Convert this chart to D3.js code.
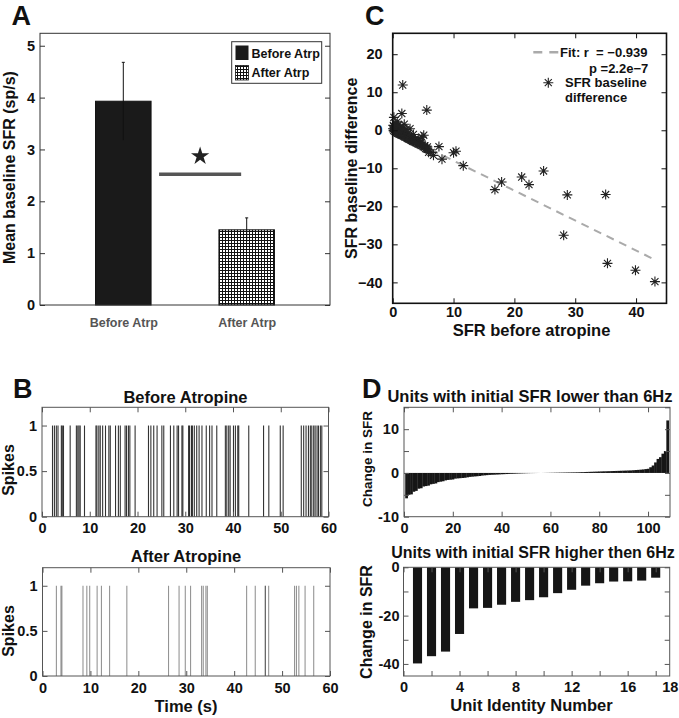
<!DOCTYPE html>
<html><head><meta charset="utf-8">
<script src="https://cdn.jsdelivr.net/npm/d3@7"></script>
<style>
html,body{margin:0;padding:0;background:#fff;}
svg{display:block;font-family:"Liberation Sans",Arial,Helvetica,sans-serif;font-weight:bold;}
.tick text{font-family:"Liberation Sans",Arial,Helvetica,sans-serif;font-weight:bold;font-size:14.5px;fill:#111;}
</style></head><body>
<svg id="fig" width="679" height="718"></svg>
<script>
// ---------- Panel A data ----------
const categoriesA = ["Before Atrp", "After Atrp"];
const meanSFR = [3.93, 1.45];
const errSFR = [0.75, 0.23];
const yTicksA = [0, 1, 2, 3, 4, 5];
const sigSpan = [1.29, 1.955];   // significance bar (category units)
const sigLevel = 2.52;
const starLevel = 2.87;

// ---------- Panel B data (spike times, s) ----------
const spikesBefore = [2.2,2.6,3.0,3.35,4.05,4.25,4.5,5.9,7.2,7.5,7.75,8.0,8.9,11.3,11.5,11.9,12.2,12.7,13.3,14.0,14.3,15.4,16.0,16.4,17.4,17.7,18.1,18.4,19.5,22.3,22.8,23.4,24.1,25.1,25.5,26.9,27.6,28.3,28.6,29.3,29.5,30.7,30.9,31.3,31.5,31.9,32.4,32.9,33.5,34.4,35.1,35.6,36.6,38.4,38.7,39.1,39.4,40.1,40.5,41.0,41.2,43.3,46.4,47.5,49.9,50.5,54.3,54.8,55.3,55.8,56.2,56.5,56.9,57.2,57.6,57.9,58.3,58.6];
const spikesAfter = [2.9,3.85,4.05,8.45,9.25,9.85,11.4,12.3,14.0,17.6,26.3,28.5,29.8,30.9,33.2,33.55,34.1,34.4,42.6,44.4,46.5,46.5,47.2,52.6,53.0,53.5,54.8,56.6];
const xTicksB = [0, 10, 20, 30, 40, 50, 60];
const yTicksB = [0, 0.5, 1];

// ---------- Panel C data ----------
const scatterC = [
 [0.05,0.4],[0.1,1.3],[0.15,-0.1],[0.2,3.4],[0.25,0.9],[0.3,0.2],[0.35,-0.3],[0.4,1.8],[0.45,0.5],[0.5,-0.5],
 [0.55,0.1],[0.6,1.1],[0.65,-0.6],[0.7,0.4],[0.75,2.2],[0.8,-0.8],[0.85,0.0],[0.9,-0.4],[0.95,1.4],[1.0,-0.9],
 [1.05,0.3],[1.1,-1.0],[1.15,-0.3],[1.2,0.8],[1.25,-1.1],[1.3,-0.6],[1.35,0.1],[1.4,-1.2],[1.45,-0.8],[1.5,4.4],
 [1.55,-1.3],[1.6,-0.2],[1.65,11.9],[1.7,-1.4],[1.75,0.6],[1.8,-1.0],[1.85,-1.5],[1.9,1.6],[1.95,-1.7],[2.0,-0.5],
 [2.1,-1.8],[2.15,-1.2],[2.2,0.2],[2.3,-1.9],[2.35,-1.4],[2.4,-2.1],[2.5,-0.9],[2.55,-2.0],[2.6,-2.3],[2.7,-1.6],
 [2.8,-2.4],[2.85,0.4],[2.9,-2.1],[3.0,-2.6],[3.1,-1.9],[3.15,-2.7],[3.2,-2.3],[3.3,-2.9],[3.4,-1.1],[3.45,-2.8],
 [3.5,-3.0],[3.6,-2.5],[3.7,-3.2],[3.8,-2.8],[3.9,-3.3],[4.0,-3.0],[4.1,-3.5],[4.2,-2.2],[4.3,-3.6],[4.4,-3.2],
 [4.5,-3.8],[4.6,-3.4],[4.7,-4.0],[4.8,-1.8],[4.9,-3.9],[5.0,-4.3],[5.1,-1.3],[5.2,-4.5],[5.3,-4.1],[5.4,-4.8],
 [5.6,5.3],[5.6,-4.9],[5.7,-4.4],[5.8,-5.0],[5.9,-5.8],
 [6.3,-5.8],[6.7,-6.6],[7.6,-4.3],[8.1,-7.6],[10.0,-5.9],[10.4,-5.5],[11.6,-9.3],[16.8,-15.6],[17.9,-13.6],
 [21.2,-12.3],[22.4,-14.3],[24.8,-10.7],[28.1,-27.6],[28.7,-17.0],[35.0,-16.9],[35.3,-35.0],[39.9,-36.8],[43.1,-39.8]
];
const fitSlope = -0.787, fitIntercept = -0.13;
const fitLabel = "Fit: r  = \u22120.939";
const pLabel = "p =2.2e\u22127";
const xTicksC = [0, 10, 20, 30, 40];
const yTicksC = [-40, -30, -20, -10, 0, 10, 20];

// ---------- Panel D data ----------
const lowChange = [
 -5.8,-5.0,-4.9,-4.3,-4.1,-3.6,-3.5,-3.1,-3.0,-2.9,
 -2.6,-2.5,-2.4,-2.1,-2.0,-1.9,-1.7,-1.6,-1.55,-1.5,
 -1.3,-1.25,-1.2,-1.15,-1.1,-1.0,-0.9,-0.85,-0.8,-0.75,
 -0.7,-0.6,-0.55,-0.5,-0.45,-0.42,-0.4,-0.37,-0.34,-0.3,
 -0.28,-0.25,-0.22,-0.2,-0.18,-0.15,-0.13,-0.11,-0.09,-0.07,
 -0.05,-0.04,-0.03,-0.02,-0.01,0,0.01,0.02,0.03,0.04,
 0.05,0.06,0.07,0.08,0.09,0.1,0.11,0.12,0.13,0.14,
 0.15,0.17,0.19,0.21,0.23,0.25,0.27,0.29,0.31,0.33,
 0.35,0.37,0.38,0.4,0.42,0.44,0.46,0.48,0.5,0.52,
 0.54,0.56,0.58,0.62,0.66,0.7,0.75,0.8,0.88,0.95,
 1.3,1.7,2.4,3.2,3.6,4.4,5.0,12.0];
const highChange = [-39.8,-36.8,-34.9,-27.6,-17.0,-16.8,-15.5,-14.3,-13.6,-12.4,-10.7,-9.3,-7.6,-6.6,-5.9,-5.8,-5.5,-4.3];
const xTicksD1 = [0, 20, 40, 60, 80, 100];
const yTicksD1 = [-10, -5, 0, 5, 10, 15];
const yLabelsD1 = [-10, 0, 10];
const xTicksD2 = [0, 2, 4, 6, 8, 10, 12, 14, 16, 18];
const xLabelPosD2 = [0, 4, 8, 12, 16, 19];
const xLabelsD2 = ["0", "4", "8", "12", "16", "18"];
const yTicksD2 = [-40, -30, -20, -10, 0];
const yLabelsD2 = [-40, -20, 0];

// ---------- helpers ----------
const svg = d3.select("#fig");
const defs = svg.append("defs");
const pat = defs.append("pattern").attr("id", "grid").attr("width", 3).attr("height", 3)
  .attr("patternUnits", "userSpaceOnUse");
pat.append("rect").attr("width", 3).attr("height", 3).attr("fill", "#111");
pat.append("rect").attr("x", 1).attr("y", 1).attr("width", 2).attr("height", 2).attr("fill", "#fff");

function frame(x, y, o) {
  const g = svg.append("g");
  const [x0, x1] = x.range(), [yb, yt] = y.range();
  const ts = o.ts ?? 5;
  const col = o.color || "#333";
  const xf = o.xFmt || (d => String(d));
  const yf = o.yFmt || (d => String(d));
  if (o.xTicks) {
    g.append("g").attr("transform", `translate(0,${yb})`)
      .call(d3.axisBottom(x).tickValues(o.xTicks).tickSize(-(o.xts ?? ts)).tickPadding(o.xPad ?? 6).tickFormat(xf));
    if (o.mirror !== false)
      g.append("g").attr("transform", `translate(0,${yt})`)
        .call(d3.axisTop(x).tickValues(o.xTicks).tickSize(-(o.xts ?? ts)).tickFormat(""));
  }
  g.append("g").attr("transform", `translate(${x0},0)`)
    .call(d3.axisLeft(y).tickValues(o.yTicks).tickSize(-ts).tickPadding(o.yPad ?? 5).tickFormat(yf));
  g.append("g").attr("transform", `translate(${x1},0)`)
    .call(d3.axisRight(y).tickValues(o.yTicks).tickSize(-ts).tickFormat(""));
  g.selectAll(".domain").remove();
  g.selectAll(".tick line").attr("stroke", col);
  g.append("rect").attr("x", x0).attr("y", yt).attr("width", x1 - x0).attr("height", yb - yt)
    .attr("fill", "none").attr("stroke", col).attr("stroke-width", o.sw || 1);
  return g;
}
function txt(x, y, s, size, opts = {}) {
  const t = svg.append("text").attr("x", x).attr("y", y).text(s)
    .attr("font-size", size).attr("font-weight", "bold")
    .attr("text-anchor", opts.anchor || "start").attr("fill", opts.fill || "#111");
  if (opts.rotate) t.attr("transform", `rotate(-90,${x},${y})`);
  return t;
}

// ================= Panel A =================
const xA = d3.scaleLinear([0.325, 2.675], [40, 330]);
const yA = d3.scaleLinear([0, 5.24], [305, 33.3]);
const bw = 0.45;
svg.append("g").selectAll("rect").data(meanSFR).join("rect")
  .attr("x", (d, i) => xA(i + 1 - bw / 2)).attr("width", xA(bw) - xA(0))
  .attr("y", d => yA(d)).attr("height", d => yA(0) - yA(d))
  .attr("fill", (d, i) => i === 0 ? "#1a1a1a" : "url(#grid)")
  .attr("stroke", "#111").attr("stroke-width", 1);
const eb = svg.append("g").attr("stroke", "#111").attr("stroke-width", 1);
meanSFR.forEach((m, i) => {
  const cx = xA(i + 1);
  eb.append("line").attr("x1", cx).attr("x2", cx).attr("y1", yA(m - errSFR[i])).attr("y2", yA(m + errSFR[i]));
  eb.append("line").attr("x1", cx - 1.5).attr("x2", cx + 1.5).attr("y1", yA(m + errSFR[i])).attr("y2", yA(m + errSFR[i]));
});
svg.append("line").attr("x1", xA(sigSpan[0])).attr("x2", xA(sigSpan[1]))
  .attr("y1", yA(sigLevel)).attr("y2", yA(sigLevel)).attr("stroke", "#555").attr("stroke-width", 3.5);
svg.append("path").attr("d", d3.symbol(d3.symbolStar, 104)())
  .attr("transform", `translate(${xA(d3.mean(sigSpan))},${yA(starLevel)})`).attr("fill", "#222");
frame(xA, yA, { yTicks: yTicksA, color: "#333", yPad: 5, yFmt: d3.format("d") });
// category labels
svg.append("g").attr("transform", `translate(0,${yA(0)})`)
  .call(d3.axisBottom(xA).tickValues([1, 2]).tickSize(0).tickPadding(13).tickFormat((d, i) => categoriesA[i]))
  .call(g => g.select(".domain").remove())
  .call(g => g.selectAll("text").style("font-size", "12.5px").style("fill", "#555"));
// legend
svg.append("rect").attr("x", 231.7).attr("y", 41.7).attr("width", 90).attr("height", 41.6)
  .attr("fill", "#fff").attr("stroke", "#333");
svg.append("rect").attr("x", 235.5).attr("y", 45.5).attr("width", 13).attr("height", 14.5).attr("fill", "#1a1a1a");
svg.append("rect").attr("x", 235.5).attr("y", 65.5).attr("width", 13).attr("height", 14.5).attr("fill", "url(#grid)").attr("stroke", "#111").attr("stroke-width", 0.8);
txt(251.5, 58.3, categoriesA[0], 12.5);
txt(251.5, 77.3, categoriesA[1], 12.5);
txt(15, yA(2.65), "Mean baseline SFR (sp/s)", 16, { anchor: "middle", rotate: true });
txt(11.5, 25, "A", 27);

// ================= Panel C =================
const xC = d3.scaleLinear([0, 45], [392.7, 666.5]);
const yC = d3.scaleLinear([-45.5, 25.5], [303.3, 33.3]);
const xFit = d3.extent(scatterC, d => d[0]);
svg.append("line").attr("x1", xC(xFit[0])).attr("y1", yC(fitIntercept + fitSlope * xFit[0]))
  .attr("x2", xC(xFit[1])).attr("y2", yC(fitIntercept + fitSlope * xFit[1]))
  .attr("stroke", "#aaa").attr("stroke-width", 2).attr("stroke-dasharray", "8,6");
const r = 5, q = r * Math.SQRT1_2;
const astPath = `M${-r},0H${r}M0,${-r}V${r}M${-q},${-q}L${q},${q}M${-q},${q}L${q},${-q}`;
svg.append("g").selectAll("path").data(scatterC).join("path")
  .attr("d", astPath).attr("transform", d => `translate(${xC(d[0])},${yC(d[1])})`)
  .attr("fill", "none").attr("stroke", "#222").attr("stroke-width", 1.1);
frame(xC, yC, { xTicks: xTicksC, yTicks: yTicksC, color: "#111", sw: 1.6, xPad: 3, yPad: 10,
  xFmt: d3.format("d"), yFmt: d3.format("d") });
// legend
svg.append("line").attr("x1", 533.3).attr("x2", 558.3).attr("y1", 52.3).attr("y2", 52.3)
  .attr("stroke", "#aaa").attr("stroke-width", 2.5).attr("stroke-dasharray", "9,7");
txt(560, 56.7, fitLabel, 13).style("white-space", "pre");
txt(589, 72.7, pLabel, 13);
svg.append("path").attr("d", astPath).attr("transform", "translate(548.3,82.7)")
  .attr("fill", "none").attr("stroke", "#222").attr("stroke-width", 1.1);
txt(565, 87, "SFR baseline", 13);
txt(565, 102, "difference", 13);
txt(357.5, yC(-10), "SFR baseline difference", 16, { anchor: "middle", rotate: true });
txt(531.5, 335.5, "SFR before atropine", 16.5, { anchor: "middle" });
txt(365, 25, "C", 27);

// ================= Panel B =================
function raster(spikes, x, y, stroke, op) {
  svg.append("g").selectAll("line").data(spikes).join("line")
    .attr("x1", d => x(d)).attr("x2", d => x(d)).attr("y1", y(0)).attr("y2", y(1))
    .attr("stroke", stroke).attr("stroke-opacity", op).attr("stroke-width", 1.1);
}
const xB1 = d3.scaleLinear([0, 60], [42, 328.5]);
const yB1 = d3.scaleLinear([0, 1.2], [516.7, 407.3]);
raster(spikesBefore, xB1, yB1, "#000", 0.8);
frame(xB1, yB1, { xTicks: xTicksB, yTicks: yTicksB, color: "#555", xPad: 6, yPad: 5 });
const xB2 = d3.scaleLinear([0, 60], [42.5, 330]);
const yB2 = d3.scaleLinear([0, 1.2], [676, 567.7]);
raster(spikesAfter, xB2, yB2, "#000", 0.42);
frame(xB2, yB2, { xTicks: xTicksB, yTicks: yTicksB, color: "#555", xPad: 6.5, yPad: 5 });
txt(185.5, 402.7, "Before Atropine", 16.5, { anchor: "middle" });
txt(186, 562, "After Atropine", 16.5, { anchor: "middle" });
txt(14, 470, "Spikes", 16, { anchor: "middle", rotate: true });
txt(14, 631, "Spikes", 16, { anchor: "middle", rotate: true });
txt(186, 711.5, "Time (s)", 16.5, { anchor: "middle" });
txt(13, 397.7, "B", 27);

// ================= Panel D =================
const xD1 = d3.scaleLinear([0, 109], [404, 670]);
const yD1 = d3.scaleLinear([-10, 15], [516.7, 407.3]);
svg.append("g").selectAll("rect").data(lowChange).join("rect")
  .attr("x", (d, i) => xD1(i + 0.5)).attr("width", xD1(1) - xD1(0) + 0.3)
  .attr("y", d => yD1(Math.max(0, d))).attr("height", d => Math.abs(yD1(d) - yD1(0)))
  .attr("fill", "#161616");
frame(xD1, yD1, { xTicks: xTicksD1, yTicks: yTicksD1, color: "#555", xPad: 6, yPad: 5,
  yFmt: d => yLabelsD1.includes(d) ? String(d) : "" });
const xD2 = d3.scaleLinear([0, 19], [403.5, 669.7]);
const yD2 = d3.scaleLinear([-45, 0], [676, 567.3]);
const bw2 = 0.65;
svg.append("g").selectAll("rect").data(highChange).join("rect")
  .attr("x", (d, i) => xD2(i + 1 - bw2 / 2)).attr("width", xD2(bw2) - xD2(0))
  .attr("y", yD2(0)).attr("height", d => yD2(d) - yD2(0))
  .attr("fill", "#161616");
frame(xD2, yD2, { xTicks: xTicksD2, yTicks: yTicksD2, color: "#555", xPad: 6, yPad: 4,
  xFmt: () => "", yFmt: d => yLabelsD2.includes(d) ? String(d) : "" });
svg.append("g").attr("transform", `translate(0,${yD2(-45)})`)
  .call(d3.axisBottom(xD2).tickValues(xLabelPosD2).tickSize(0).tickPadding(6).tickFormat((d, i) => xLabelsD2[i]))
  .call(g => g.select(".domain").remove());
txt(530, 401.5, "Units with initial SFR lower than 6Hz", 16.5, { anchor: "middle" });
txt(533, 558, "Units with initial SFR higher then 6Hz", 16, { anchor: "middle" });
txt(372, 459, "Change in SFR", 13.5, { anchor: "middle", rotate: true });
txt(371.5, 622, "Change in SFR", 16, { anchor: "middle", rotate: true });
txt(531.5, 711, "Unit Identity Number", 16.5, { anchor: "middle" });
txt(362, 397.7, "D", 27);
</script></body></html>
